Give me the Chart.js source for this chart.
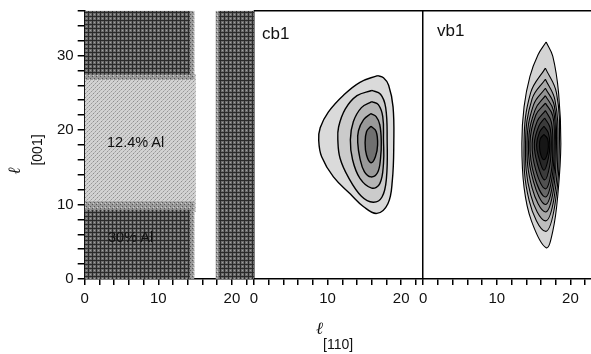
<!DOCTYPE html>
<html>
<head>
<meta charset="utf-8">
<script src="https://cdn.jsdelivr.net/npm/chart.js@4/dist/chart.umd.min.js"></script>
<style>
  html, body { margin: 0; padding: 0; background: #fff; overflow: hidden; width: 591px; height: 354px; }
  #wrap { position: relative; width: 600px; height: 354px; }
  #c { position: absolute; left: 0; top: 0; }
  .t { position: absolute; font-family: 'Liberation Sans', Arial, sans-serif; color: #111; white-space: nowrap; line-height: 1; }
  .rot { transform: translate(-50%, -50%) rotate(-90deg); }
  .ell { font-family: 'Liberation Serif', 'DejaVu Serif', serif; font-style: italic; }
</style>
</head>
<body>
<div id="wrap">
  <canvas id="c" width="600" height="354"></canvas>
  <div class="t" style="left:262px;top:24.5px;font-size:17px">cb1</div>
  <div class="t" style="left:437px;top:22px;font-size:17px">vb1</div>
  <div class="t" style="left:107px;top:135px;font-size:14.5px">12.4% Al</div>
  <div class="t" style="left:108px;top:229.5px;font-size:14.5px">30% Al</div>
  <div class="t ell rot" style="left:14px;top:171px;font-size:17px">ℓ</div>
  <div class="t rot" style="left:37px;top:150px;font-size:14px">[001]</div>
  <div class="t ell" style="left:316px;top:320px;font-size:17px">ℓ</div>
  <div class="t" style="left:323px;top:337px;font-size:14px">[110]</div>
</div>
<script>
// ---- data (x in panel units, y in units) ----
const panelMax = 23;
const yMax = 36;
const tickStep = 2;

// left panel: Al content map (rectangles as corner lists)
const lightBand = [[0, 9], [15.1, 9], [15.1, 27.5], [0, 27.5]];
const fadeLow = [[0, 0], [14.9, 0], [14.9, 10.4], [0, 10.4]];
const fadeHigh = [[0, 26.7], [14.9, 26.7], [14.9, 36], [0, 36]];
const darkLow = [[0, 0], [14.3, 0], [14.3, 9.3], [0, 9.3]];
const darkHigh = [[0, 27.4], [14.3, 27.4], [14.3, 36], [0, 36]];
const fadeRight = [[17.8, 0], [23, 0], [23, 36], [17.8, 36]];
const darkRight = [[18.2, 0], [23, 0], [23, 36], [18.2, 36]];

// cb1 contours, outer to inner
const cb1Contours = [
  [[16.8, 27.3], [14.4, 26.4], [12.2, 24.7], [10.1, 22.4], [9.0, 20.3], [8.8, 18.6], [9.2, 16.4], [10.8, 13.7], [13.1, 11.4], [14.9, 9.7], [16.7, 8.8], [18.2, 10.1], [18.8, 13.2], [19.0, 18.2], [18.9, 23.1], [18.3, 26.0], [17.6, 27.0]],
  [[16.0, 25.3], [14.0, 24.6], [12.4, 22.8], [11.5, 20.4], [11.4, 18.6], [11.7, 16.2], [12.8, 13.7], [14.6, 11.1], [16.2, 10.3], [17.4, 11.0], [18.0, 13.5], [18.1, 18.6], [17.9, 23.0], [17.2, 24.8]],
  [[16.0, 23.8], [14.6, 23.0], [13.5, 21.1], [13.1, 18.7], [13.4, 16.0], [14.4, 13.5], [16.0, 12.2], [17.1, 12.8], [17.6, 15.5], [17.6, 18.7], [17.5, 21.8], [16.9, 23.4]],
  [[15.9, 22.2], [14.9, 21.4], [14.2, 19.9], [14.1, 18.3], [14.4, 16.2], [15.0, 14.4], [15.9, 13.7], [16.8, 14.3], [17.2, 16.2], [17.3, 18.4], [17.1, 20.7], [16.6, 21.8]],
  [[15.9, 20.5], [15.3, 19.8], [15.1, 18.3], [15.3, 16.6], [15.9, 15.6], [16.5, 16.4], [16.8, 18.0], [16.6, 19.8]]
];
const cb1Colors = ['#dadada', '#cbcbcb', '#b5b5b5', '#999999', '#707070'];

// vb1 contours, outer to inner
const vb1Contours = [
  [[16.7, 31.8], [15.6, 30.1], [14.5, 27.2], [13.7, 23.1], [13.4, 18.2], [13.7, 12.3], [14.7, 7.8], [16.7, 4.2], [17.6, 6.4], [18.3, 11.4], [18.7, 18.2], [18.4, 24.9], [17.6, 29.9]],
  [[16.6, 28.3], [14.6, 25.0], [13.7, 18.2], [14.4, 10.5], [16.6, 6.4], [17.9, 10.0], [18.5, 18.2], [18.1, 25.0]],
  [[16.6, 26.8], [14.8, 24.2], [13.9, 18.2], [14.6, 11.3], [16.6, 7.8], [17.8, 11.0], [18.3, 18.2], [17.9, 24.0]],
  [[16.6, 25.6], [15.0, 23.4], [14.1, 18.2], [14.8, 12.2], [16.6, 9.0], [17.7, 12.0], [18.1, 18.2], [17.8, 23.3]],
  [[16.6, 24.6], [15.2, 22.7], [14.3, 18.2], [15.0, 13.0], [16.6, 10.0], [17.6, 12.8], [17.95, 18.2], [17.7, 22.6]],
  [[16.6, 23.6], [15.3, 22.0], [14.5, 18.2], [15.1, 13.8], [16.6, 11.0], [17.5, 13.6], [17.8, 18.2], [17.6, 21.9]],
  [[16.6, 22.6], [15.5, 21.2], [14.8, 18.2], [15.3, 14.6], [16.6, 12.1], [17.4, 14.4], [17.6, 18.2], [17.4, 21.1]],
  [[16.5, 21.6], [15.7, 20.5], [15.1, 18.2], [15.5, 15.5], [16.5, 13.3], [17.2, 15.3], [17.4, 18.2], [17.2, 20.4]],
  [[16.4, 20.5], [15.8, 19.7], [15.4, 18.0], [15.7, 16.3], [16.4, 14.6], [17.0, 16.2], [17.2, 18.0], [17.0, 19.6]],
  [[16.4, 19.4], [15.9, 18.8], [15.8, 17.7], [16.0, 16.6], [16.4, 16.0], [16.8, 16.6], [17.0, 17.7], [16.9, 18.8]]
];
const vb1Colors = ['#d4d4d4', '#bdbdbd', '#a8a8a8', '#939393', '#7d7d7d', '#676767', '#515151', '#3b3b3b', '#272727', '#161616'];

// ---- halftone-like fills ----
function tile(bg, marks) {
  const cv = document.createElement('canvas');
  cv.width = 4; cv.height = 4;
  const g = cv.getContext('2d');
  g.fillStyle = bg;
  g.fillRect(0, 0, 4, 4);
  marks.forEach(m => { g.fillStyle = m[2]; g.fillRect(m[0], m[1], 1, 1); });
  return g.createPattern(cv, 'repeat');
}
const darkFill = tile('#6c6c6c', [[0, 0, '#2a2a2a'], [1, 0, '#2a2a2a'], [2, 0, '#2a2a2a'], [3, 0, '#2a2a2a'], [0, 1, '#2a2a2a'], [0, 2, '#2a2a2a'], [0, 3, '#2a2a2a'], [2, 2, '#a0a0a0']]);
const lightFill = tile('#d2d2d2', [[1, 1, '#8e8e8e'], [3, 3, '#9a9a9a'], [0, 2, '#b4b4b4'], [2, 0, '#b4b4b4']]);
const fadeFill = tile('#9a9a9a', [[0, 0, '#555555'], [2, 2, '#5a5a5a'], [1, 3, '#cfcfcf']]);

function poly(points, xAxisID, fill, opts) {
  const pts = points.map(p => ({ x: p[0], y: p[1] }));
  pts.push({ x: points[0][0], y: points[0][1] });
  return Object.assign({
    data: pts,
    xAxisID: xAxisID,
    yAxisID: 'y',
    showLine: true,
    fill: 'shape',
    backgroundColor: fill,
    borderColor: 'rgba(0,0,0,0)',
    borderWidth: 0,
    pointRadius: 0,
    tension: 0
  }, opts || {});
}

const datasets = [];
let order = 1000;
[[lightBand, lightFill], [fadeLow, fadeFill], [fadeHigh, fadeFill], [darkLow, darkFill], [darkHigh, darkFill], [fadeRight, fadeFill], [darkRight, darkFill]]
  .forEach(r => datasets.push(poly(r[0], 'x1', r[1], { order: order-- })));
cb1Contours.forEach((c, i) => datasets.push(poly(c, 'x2', cb1Colors[i], { order: order--, borderColor: '#000', borderWidth: 1.4, tension: 0.4 })));
vb1Contours.forEach((c, i) => datasets.push(poly(c, 'x3', vb1Colors[i], { order: order--, borderColor: '#000', borderWidth: 1.1, tension: 0.4 })));

const tickFont = { family: "'Liberation Sans', Arial, sans-serif", size: 15 };

function panelAxis(zeroLine) {
  return {
    type: 'linear',
    position: 'bottom',
    stack: 'panels',
    min: 0,
    max: panelMax,
    z: zeroLine ? 1 : 0,
    ticks: {
      stepSize: tickStep,
      includeBounds: false,
      autoSkip: false,
      maxRotation: 0,
      padding: 5,
      color: '#111',
      font: tickFont,
      callback: v => (v % 10 === 0 ? v : '')
    },
    grid: {
      drawOnChartArea: zeroLine,
      color: c => (c.tick && c.tick.value === 0 ? '#000' : 'rgba(0,0,0,0)'),
      tickColor: '#000',
      tickLength: 6,
      lineWidth: 1.5
    },
    border: { color: '#000', width: 1.5 }
  };
}

// top frame over the two contour panels
const topFrame = {
  id: 'topFrame',
  afterDraw(chart) {
    const { ctx, chartArea, scales } = chart;
    ctx.save();
    ctx.strokeStyle = '#000';
    ctx.lineWidth = 1.5;
    ctx.beginPath();
    ctx.moveTo(scales.x2.left, chartArea.top);
    ctx.lineTo(chartArea.right, chartArea.top);
    ctx.stroke();
    ctx.restore();
  }
};

new Chart(document.getElementById('c'), {
  type: 'scatter',
  data: { datasets: datasets },
  options: {
    responsive: false,
    animation: false,
    layout: { padding: { left: 53, right: 7.5, top: 0, bottom: 41 } },
    plugins: { legend: { display: false }, tooltip: { enabled: false } },
    scales: {
      x1: panelAxis(false),
      x2: panelAxis(true),
      x3: panelAxis(true),
      y: {
        type: 'linear',
        position: 'left',
        min: 0,
        max: yMax,
        ticks: {
          stepSize: tickStep,
          autoSkip: false,
          padding: 4,
          color: '#111',
          font: { family: tickFont.family, size: 15, lineHeight: 0.9 },
          callback: v => (v % 10 === 0 ? v : '')
        },
        grid: { drawOnChartArea: false, tickColor: '#000', tickLength: 7, lineWidth: 1.5 },
        border: { color: '#000', width: 1.5 }
      }
    }
  },
  plugins: [topFrame]
});
</script>
</body>
</html>
